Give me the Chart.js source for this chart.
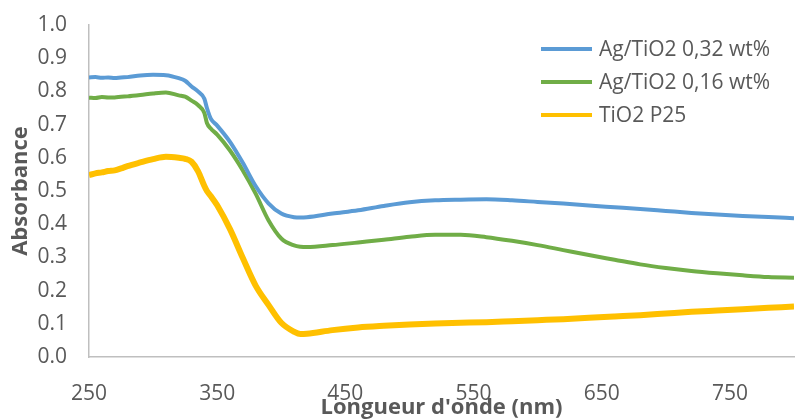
<!DOCTYPE html>
<html>
<head>
<meta charset="utf-8">
<script src="https://cdn.jsdelivr.net/npm/chart.js@4/dist/chart.umd.min.js"></script>
<style>
html,body{margin:0;padding:0;background:#fff;}
canvas{display:block;}
</style>
</head>
<body>
<canvas id="c" width="797" height="419"></canvas>
<script>
const wavelengths = [250,255,260,265,270,275,280,290,300,310,320,325,330,335,340,342,345,350,360,370,380,390,400,410,415,420,440,460,480,500,520,540,560,580,600,620,640,660,680,700,720,740,760,780,800];
const seriesLabels = ['Ag/TiO2 0,32 wt%','Ag/TiO2 0,16 wt%','TiO2 P25'];
const ag032 = [0.842,0.843,0.841,0.842,0.840,0.842,0.843,0.848,0.850,0.849,0.840,0.832,0.815,0.800,0.778,0.750,0.718,0.697,0.648,0.585,0.515,0.463,0.432,0.421,0.420,0.421,0.432,0.442,0.455,0.466,0.472,0.474,0.475,0.472,0.467,0.462,0.456,0.451,0.446,0.440,0.434,0.429,0.425,0.422,0.418];
const ag016 = [0.781,0.780,0.783,0.782,0.782,0.784,0.785,0.789,0.794,0.797,0.788,0.784,0.772,0.759,0.735,0.705,0.688,0.670,0.622,0.562,0.492,0.412,0.357,0.336,0.332,0.331,0.337,0.345,0.353,0.362,0.368,0.368,0.361,0.350,0.337,0.322,0.307,0.293,0.279,0.268,0.259,0.252,0.246,0.241,0.239];
const p25 = [0.548,0.553,0.556,0.560,0.562,0.568,0.575,0.586,0.596,0.603,0.600,0.597,0.588,0.560,0.515,0.500,0.485,0.457,0.385,0.298,0.215,0.157,0.103,0.076,0.069,0.070,0.081,0.089,0.094,0.098,0.101,0.103,0.105,0.108,0.111,0.114,0.118,0.122,0.126,0.131,0.136,0.140,0.144,0.148,0.152];
const xTicks = [250,350,450,550,650,750];
const yTicks = [0,0.1,0.2,0.3,0.4,0.5,0.6,0.7,0.8,0.9,1.0];
const colors = ['#5B9BD5','#70AD47','#FFC000'];
const widths = [4,4,6];

const toPts = arr => arr.map((v,i)=>({x:wavelengths[i], y:v}));
const allSeries = [ag032, ag016, p25];

Chart.defaults.font.family = "'Open Sans', sans-serif";
Chart.defaults.color = '#595959';

const legendPlugin = {
  id:'insideLegend',
  afterDraw(chart){
    const ctx = chart.ctx;
    ctx.save();
    chart.data.datasets.forEach((ds,i)=>{
      const y = 49 + i*33;
      ctx.strokeStyle = ds.borderColor;
      ctx.lineWidth = 4;
      ctx.beginPath(); ctx.moveTo(541,y); ctx.lineTo(592,y); ctx.stroke();
      ctx.fillStyle = '#595959';
      ctx.font = "21px 'Open Sans', sans-serif";
      ctx.textBaseline = 'middle';
      ctx.textAlign = 'left';
      ctx.fillText(ds.label, 599, y+1);
    });
    ctx.restore();
  }
};

new Chart(document.getElementById('c'), {
  type:'line',
  data:{
    datasets: allSeries.map((s,i)=>({
      label: seriesLabels[i],
      data: toPts(s),
      borderColor: colors[i],
      backgroundColor: colors[i],
      borderWidth: widths[i],
      pointRadius:0,
      cubicInterpolationMode:'monotone',
      fill:false
    }))
  },
  options:{
    responsive:false,
    animation:false,
    layout:{padding:{top:25,right:3,left:0,bottom:0}},
    plugins:{legend:{display:false}, tooltip:{enabled:false}},
    scales:{
      x:{
        type:'linear', min:250, max:800,
        afterBuildTicks: ax => { ax.ticks = xTicks.map(v=>({value:v})); },
        afterFit: sc => { sc.height = 62; },
        grid:{display:false, drawTicks:false},
        border:{color:'#bfbfbf', width:1.5},
        ticks:{font:{size:21}, color:'#595959', padding:24, maxRotation:0, autoSkip:false},
        title:{display:true, text:"Longueur d'onde (nm)", color:'#595959', font:{size:22, weight:'bold', lineHeight:1}, padding:{top:0,bottom:0}}
      },
      y:{
        min:0, max:1,
        afterBuildTicks: ax => { ax.ticks = yTicks.map(v=>({value:v})); },
        afterFit: sc => { sc.width = 89; },
        grid:{display:true, drawOnChartArea:false, drawTicks:true, tickLength:20, color:'rgba(0,0,0,0)'},
        border:{color:'#bfbfbf', width:1.5},
        ticks:{font:{size:21}, color:'#595959', padding:2, callback: v => Number(v).toFixed(1)},
        title:{display:true, text:'Absorbance', color:'#595959', font:{size:22, weight:'bold', lineHeight:1}, padding:{top:10,bottom:0}}
      }
    }
  },
  plugins:[legendPlugin]
});
</script>
</body>
</html>
